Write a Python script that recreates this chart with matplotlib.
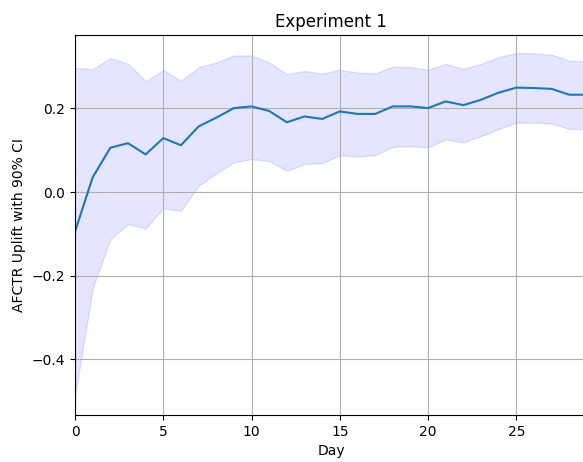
import matplotlib
matplotlib.use("Agg")
import matplotlib.pyplot as plt
import numpy as np

# values
days = list(range(30))
uplift = [-0.095, 0.035, 0.106, 0.117, 0.090, 0.129, 0.112, 0.157, 0.178, 0.201,
          0.205, 0.194, 0.167, 0.181, 0.175, 0.193, 0.187, 0.187, 0.205, 0.205,
          0.201, 0.217, 0.208, 0.221, 0.238, 0.250, 0.249, 0.247, 0.233, 0.233]
upper = [0.297, 0.294, 0.321, 0.307, 0.265, 0.292, 0.266, 0.299, 0.310, 0.327,
         0.327, 0.310, 0.282, 0.290, 0.283, 0.293, 0.286, 0.284, 0.300, 0.299,
         0.293, 0.307, 0.295, 0.307, 0.323, 0.333, 0.332, 0.329, 0.314, 0.314]
lower = [-0.490, -0.231, -0.113, -0.077, -0.087, -0.039, -0.045, 0.015, 0.045, 0.071,
         0.079, 0.074, 0.051, 0.067, 0.069, 0.088, 0.085, 0.088, 0.108, 0.110,
         0.107, 0.126, 0.119, 0.134, 0.151, 0.166, 0.166, 0.164, 0.151, 0.151]

fig = plt.figure(figsize=(5.83, 4.62), dpi=100)
ax = fig.add_axes([75/583, 47/462, 512/583, 380/462])

ax.fill_between(days, lower, upper, color='blue', alpha=0.1)
ax.plot(days, uplift, color='tab:blue')

ax.set_xlim(0, 29)
ax.set_ylim(-0.534, 0.376)
ax.set_xticks([0, 5, 10, 15, 20, 25])
ax.set_yticks([-0.4, -0.2, 0.0, 0.2])
ax.grid(True)
ax.set_title('Experiment 1')
ax.set_xlabel('Day')
ax.set_ylabel('AFCTR Uplift with 90% CI')

fig.savefig('out.png', dpi=100)
